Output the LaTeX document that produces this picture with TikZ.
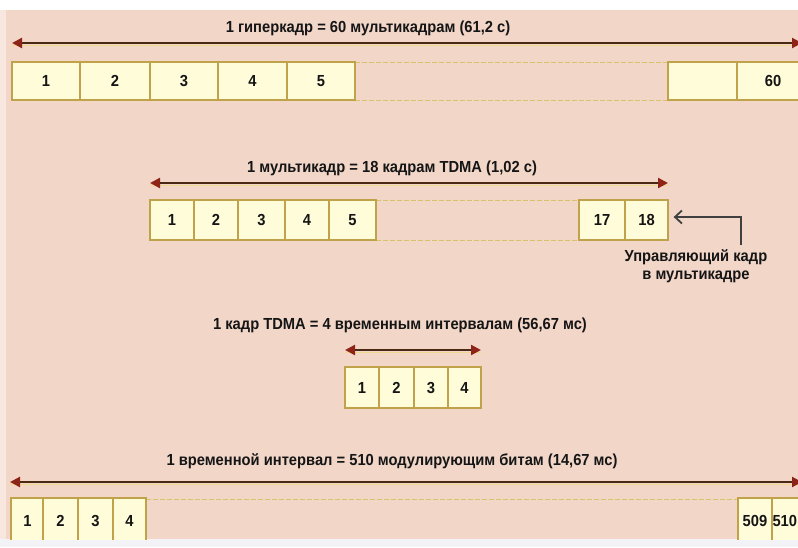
\documentclass[tikz,border=0pt]{standalone}
\usepackage{fontspec}
\setmainfont{Liberation Sans}[FakeStretch=0.92]
\usetikzlibrary{arrows.meta}
\definecolor{bg}{HTML}{F2D7C9}
\definecolor{edge}{HTML}{F7E7DE}
\definecolor{botband}{HTML}{F3F3F7}
\definecolor{cellfill}{HTML}{FFFCDA}
\definecolor{celldraw}{HTML}{BFA24A}
\definecolor{arrbrown}{HTML}{4A2812}
\definecolor{headred}{HTML}{8E2418}
\definecolor{glow}{HTML}{EED98E}
\definecolor{bandline}{HTML}{D9C36A}
\definecolor{txt}{HTML}{151515}
\tikzset{
  lbl/.style={font=\fontsize{16}{18}\bfseries\selectfont, text=txt, inner sep=0pt},
  cell/.style={draw=celldraw, line width=1.3pt, fill=cellfill, inner sep=0pt,
    font=\fontsize{16}{18}\bfseries\selectfont, text=txt},
  span/.style={draw=arrbrown, line width=2.2pt,
    {Triangle[length=10pt,width=10pt,color=headred]}-{Triangle[length=10pt,width=10pt,color=headred]}},
  spanglow/.style={draw=glow, line width=1.6pt},
  band/.style={draw=bandline, line width=1pt, dashed, dash pattern=on 5pt off 2pt},
  ctrl/.style={draw=black!75, line width=1.8pt, -{Straight Barb[length=7pt,width=13pt]}}
}
\begin{document}
\begin{tikzpicture}[x=1pt,y=-1pt]
\useasboundingbox (0,0) rectangle (798,547);
\begin{scope}
\clip (0,0) rectangle (798,547);
\fill[white] (0,0) rectangle (798,547);
\fill[edge] (0,10) rectangle (8,539);
\fill[bg] (6,10) rectangle (798,539);
\fill[botband] (0,539) rectangle (798,547);

% ---------- row 1: hyperframe ----------
\node[lbl] (t1) at (368,28) {1 гиперкадр = 60 мультикадрам (61,2 с)};
\coordinate (h1l) at (12,43);
\coordinate (h1r) at (802,43);
\draw[spanglow] ([yshift=-2.5pt]h1l) -- ([yshift=-2.5pt]h1r);
\draw[span] (h1l) -- (h1r);
\draw[band] (355,62) -- (668,62) (355,100) -- (668,100);
\node[cell, minimum width=68pt, minimum height=38pt] (a1) at (46,81) {1};
\node[cell, minimum width=70pt, minimum height=38pt] (a2) at (115,81) {2};
\node[cell, minimum width=68pt, minimum height=38pt] (a3) at (184,81) {3};
\node[cell, minimum width=69pt, minimum height=38pt] (a4) at (252.5,81) {4};
\node[cell, minimum width=68pt, minimum height=38pt] (a5) at (321,81) {5};
\node[cell, minimum width=69pt, minimum height=38pt] (a59) at (702.5,81) {};
\node[cell, minimum width=69pt, minimum height=38pt, text width=69pt, align=center] (a60) at (771.5,81) {\hspace*{3pt}60};

% ---------- row 2: multiframe ----------
\node[lbl] (t2) at (392,168) {1 мультикадр = 18 кадрам TDMA (1,02 с)};
\coordinate (h2l) at (150,183);
\coordinate (h2r) at (668,183);
\draw[spanglow] ([yshift=-2.5pt]h2l) -- ([yshift=-2.5pt]h2r);
\draw[span] (h2l) -- (h2r);
\draw[band] (376,200) -- (579,200) (376,240) -- (579,240);
\node[cell, minimum width=44pt, minimum height=40pt] (b1) at (172,220) {1};
\node[cell, minimum width=44pt, minimum height=40pt] (b2) at (216,220) {2};
\node[cell, minimum width=47pt, minimum height=40pt] (b3) at (261.5,220) {3};
\node[cell, minimum width=44pt, minimum height=40pt] (b4) at (307,220) {4};
\node[cell, minimum width=47pt, minimum height=40pt] (b5) at (352.5,220) {5};
\node[cell, minimum width=46pt, minimum height=40pt] (b17) at (602,220) {17};
\node[cell, minimum width=43pt, minimum height=40pt] (b18) at (646.5,220) {18};
\node[lbl, align=center] (note) at (696,266) {Управляющий кадр\\[0pt]в мультикадре};
\coordinate (k) at (741,245);
\draw[ctrl] (k) |- ([xshift=5pt,yshift=3pt]b18.east);

% ---------- row 3: TDMA frame ----------
\node[lbl] (t3) at (400,325) {1 кадр TDMA = 4 временным интервалам (56,67 мс)};
\coordinate (h3l) at (345,350);
\coordinate (h3r) at (481,350);
\draw[spanglow] ([yshift=-2.5pt]h3l) -- ([yshift=-2.5pt]h3r);
\draw[span] (h3l) -- (h3r);
\node[cell, minimum width=34pt, minimum height=41pt] (c1) at (362,387.5) {1};
\node[cell, minimum width=35pt, minimum height=41pt] (c2) at (396.5,387.5) {2};
\node[cell, minimum width=34pt, minimum height=41pt] (c3) at (431,387.5) {3};
\node[cell, minimum width=33pt, minimum height=41pt] (c4) at (464.5,387.5) {4};

% ---------- row 4: time slot ----------
\node[lbl] (t4) at (392,461) {1 временной интервал = 510 модулирующим битам (14,67 мс)};
\coordinate (h4l) at (10,482);
\coordinate (h4r) at (802,482);
\draw[spanglow] ([yshift=-2.5pt]h4l) -- ([yshift=-2.5pt]h4r);
\draw[span] (h4l) -- (h4r);
\draw[band] (146,499) -- (738,499);
\node[cell, minimum width=33pt, minimum height=46pt] (d1) at (27.5,521) {1};
\node[cell, minimum width=35pt, minimum height=46pt] (d2) at (60.5,521) {2};
\node[cell, minimum width=35pt, minimum height=46pt] (d3) at (95.5,521) {3};
\node[cell, minimum width=33pt, minimum height=46pt] (d4) at (129.5,521) {4};
\node[cell, minimum width=34pt, minimum height=46pt] (d509) at (755,521) {509};
\node[cell, minimum width=34pt, minimum height=46pt, text width=34pt, align=left] (d510) at (789,521) {\hspace*{0.5pt}510};
\fill[botband] (0,540) rectangle (798,547);
\end{scope}
\end{tikzpicture}
\end{document}
